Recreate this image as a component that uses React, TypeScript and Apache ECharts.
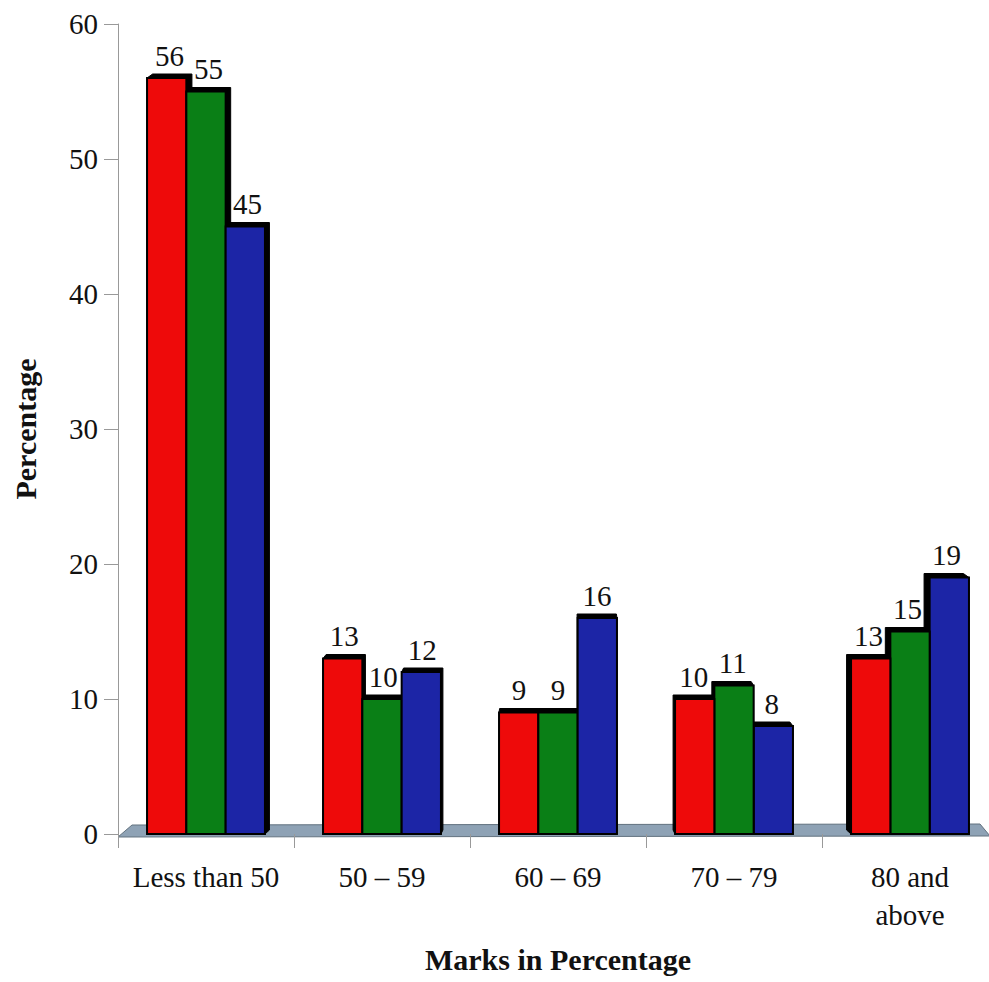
import React, { useEffect, useRef } from "react";
import * as echarts from "echarts";

const categories = ["Less than 50", "50 – 59", "60 – 69", "70 – 79", "80 and\nabove"];
const seriesA = [56, 13, 9, 10, 13];
const seriesB = [55, 10, 9, 11, 15];
const seriesC = [45, 12, 16, 8, 19];
const seriesColors = ["#ee0a0a", "#0a7f16", "#1c25a6"];
const yTicks = { min: 0, max: 60, interval: 10 };

const FONT = "'Liberation Serif', 'Times New Roman', serif";

export default function App() {
  const ref = useRef<HTMLDivElement>(null);
  useEffect(() => {
    if (!ref.current) return;
    const chart = echarts.init(ref.current, undefined, { renderer: "svg" });
    const allSeries = [seriesA, seriesB, seriesC];

    const makeSeries = (values: number[], sIdx: number) => ({
      type: "custom",
      name: "s" + sIdx,
      data: values.map((v, i) => [i, v]),
      encode: { x: 0, y: 1 },
      renderItem: (params: any, api: any) => {
        const cat = api.value(0);
        const val = api.value(1);
        const top = api.coord([cat, val]);
        const base = api.coord([cat, 0]);
        const mid = api.coord([2, 0]);
        const band = api.size([1, 0])[0];
        const barW = (band * 0.67) / 3;
        const cx = top[0] + (sIdx - 1) * barW;
        const x0 = cx - barW / 2;
        const x1 = cx + barW / 2;
        const yt = top[1];
        const yb = base[1];
        const dx = (mid[0] - cx) / 70;
        const dy = 4;
        let pts: number[][];
        if (dx >= 0) {
          pts = [
            [x0, yt],
            [x0 + dx, yt - dy],
            [x1 + dx, yt - dy],
            [x1 + dx, yb - dy],
            [x1, yb],
            [x0, yb],
          ];
        } else {
          pts = [
            [x0 + dx, yt - dy],
            [x1 + dx, yt - dy],
            [x1, yt],
            [x1, yb],
            [x0, yb],
            [x0 + dx, yb - dy],
          ];
        }
        const z = dx >= 0 ? sIdx * 3 : (3 - sIdx) * 3;
        return {
          type: "group",
          children: [
            {
              type: "polygon",
              z2: z,
              shape: { points: pts },
              style: { fill: "#000", stroke: "#000", lineWidth: 1 },
            },
            {
              type: "rect",
              z2: z + 1,
              shape: { x: x0, y: yt, width: barW, height: yb - yt },
              style: { fill: seriesColors[sIdx], stroke: "#000", lineWidth: 2 },
            },
            {
              type: "text",
              z2: 50,
              style: {
                text: String(val),
                x: cx + dx / 2,
                y: yt - 8,
                align: "center",
                verticalAlign: "bottom",
                fill: "#111",
                font: `29px ${FONT}`,
              },
            },
          ],
        };
      },
    });

    chart.setOption({
      animation: false,
      grid: { left: 118, width: 880, top: 24, bottom: 148, outerBoundsMode: "none", containLabel: false },
      xAxis: {
        type: "category",
        data: categories,
        name: "Marks in Percentage",
        nameLocation: "middle",
        nameGap: 110,
        nameTextStyle: { fontFamily: FONT, fontWeight: "bold", fontSize: 30, color: "#111" },
        axisLine: { show: false },
        axisTick: { show: true, length: 14, lineStyle: { color: "#999", width: 1 } },
        axisLabel: {
          fontFamily: FONT,
          fontSize: 29,
          color: "#111",
          margin: 24,
          lineHeight: 38,
          interval: 0,
        },
        splitLine: { show: false },
      },
      yAxis: {
        type: "value",
        min: yTicks.min,
        max: yTicks.max,
        interval: yTicks.interval,
        name: "Percentage",
        nameLocation: "middle",
        nameGap: 78,
        nameTextStyle: { fontFamily: FONT, fontWeight: "bold", fontSize: 30, color: "#111" },
        axisLine: { show: true, lineStyle: { color: "#999", width: 1 } },
        axisTick: { show: true, length: 14, lineStyle: { color: "#999", width: 1 } },
        axisLabel: { fontFamily: FONT, fontSize: 29, color: "#111", margin: 20 },
        splitLine: { show: false },
      },
      graphic: [
        {
          type: "polygon",
          z: 0,
          shape: {
            points: [
              [118, 837],
              [132, 825],
              [980, 824],
              [990, 836],
            ],
          },
          style: { fill: "#8ea2b5", stroke: "#62727f", lineWidth: 1 },
        },
      ],
      series: allSeries.map((v, i) => makeSeries(v, i)),
    });
    return () => chart.dispose();
  }, []);
  return (
    <div
      ref={ref}
      style={{ position: "fixed", left: 0, top: 0, width: 989, height: 982, background: "#fff" }}
    />
  );
}
